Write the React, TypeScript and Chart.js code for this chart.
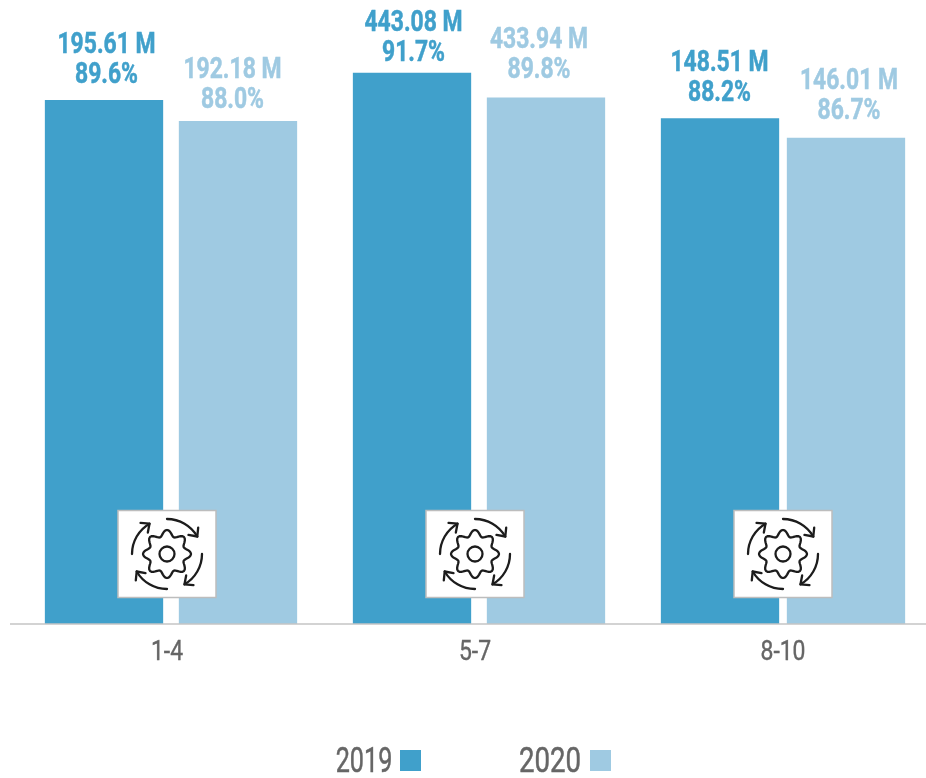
import React, { useEffect, useRef } from "react";
import { Chart, registerables } from "chart.js";

Chart.register(...registerables);

const categories = ["1-4", "5-7", "8-10"];
const seriesNames = ["2019", "2020"];
const share2019 = [89.6, 91.7, 88.2];
const share2020 = [88.0, 89.8, 86.7];
const millions2019 = ["195.61 M", "443.08 M", "148.51 M"];
const millions2020 = ["192.18 M", "433.94 M", "146.01 M"];

const BLUE = "#40a0cb";
const LIGHT = "#9fcae2";
const GREY = "#666666";
const FONT = 'Roboto, "Liberation Sans", sans-serif';

// fine placement, by [dataset][category]: horizontal shift of a bar and of its label, gap above the bar
const barShift = [[0, 0, 0], [0, 0, -8]];
const labelShift = [[2.5, 1.5, -0.5], [-5.5, -7, 3]];
const labelGap = [[17, 12, 17], [13, 20, 19]];

function squeezed(ctx: CanvasRenderingContext2D, text: string, x: number, y: number, sx: number, weight = 0) {
  ctx.save();
  ctx.translate(x, y);
  ctx.scale(sx, 1);
  ctx.fillText(text, 0, 0);
  if (weight > 0) {
    ctx.strokeStyle = ctx.fillStyle;
    ctx.lineWidth = weight;
    ctx.strokeText(text, 0, 0);
  }
  ctx.restore();
}

function drawIcon(ctx: CanvasRenderingContext2D, cx: number, top: number) {
  const w = 98, h = 87, cy = top + h / 2;
  ctx.save();
  ctx.fillStyle = "#ffffff";
  ctx.strokeStyle = "#bdbdbd";
  ctx.lineWidth = 1.5;
  ctx.fillRect(cx - w / 2, top, w, h);
  ctx.strokeRect(cx - w / 2, top, w, h);
  ctx.strokeStyle = "#1c1c1c";
  ctx.lineWidth = 2.3;
  ctx.lineCap = "round";
  ctx.lineJoin = "round";
  const teeth = 8;
  ctx.beginPath();
  for (let i = 0; i <= 96; i++) {
    const a = (i / 96) * Math.PI * 2;
    const r = 21 + 3 * Math.cos(teeth * a);
    const x = cx + r * Math.cos(a), y = cy + r * Math.sin(a);
    if (i === 0) ctx.moveTo(x, y); else ctx.lineTo(x, y);
  }
  ctx.closePath();
  ctx.stroke();
  ctx.beginPath();
  ctx.arc(cx, cy, 7.5, 0, Math.PI * 2);
  ctx.stroke();
  const R = 35;
  [-Math.PI / 2, 0, Math.PI / 2, Math.PI].forEach((start) => {
    const end = start + Math.PI / 3;
    ctx.beginPath();
    ctx.arc(cx, cy, R, start, end);
    ctx.stroke();
    const ex = cx + R * Math.cos(end), ey = cy + R * Math.sin(end);
    const t = end + Math.PI / 2 - 0.12;
    ctx.beginPath();
    ctx.moveTo(ex + 9 * Math.cos(t + 2.4), ey + 9 * Math.sin(t + 2.4));
    ctx.lineTo(ex, ey);
    ctx.lineTo(ex + 9 * Math.cos(t - 2.4), ey + 9 * Math.sin(t - 2.4));
    ctx.stroke();
  });
  ctx.restore();
}

const annotate = {
  id: "annotate",
  afterDatasetsUpdate(chart: any) {
    chart.data.datasets.forEach((_: any, d: number) => {
      chart.getDatasetMeta(d).data.forEach((bar: any, i: number) => {
        bar.x += barShift[d][i];
      });
    });
  },
  afterDraw(chart: any) {
    const ctx: CanvasRenderingContext2D = chart.ctx;
    const base = chart.scales.y.bottom;
    ctx.save();
    ctx.strokeStyle = "#c4c4c4";
    ctx.lineWidth = 1.5;
    ctx.beginPath();
    ctx.moveTo(10, base);
    ctx.lineTo(chart.width, base);
    ctx.stroke();

    const texts = [millions2019, millions2020];
    ctx.textAlign = "center";
    ctx.textBaseline = "alphabetic";
    ctx.font = `bold 29px ${FONT}`;
    chart.data.datasets.forEach((ds: any, d: number) => {
      ctx.fillStyle = ds.backgroundColor;
      chart.getDatasetMeta(d).data.forEach((bar: any, i: number) => {
        const x = bar.x + labelShift[d][i];
        const y = bar.y - labelGap[d][i];
        squeezed(ctx, ds.data[i].toFixed(1) + "%", x, y, 0.79, 0.5);
        squeezed(ctx, texts[d][i], x, y - 30, 0.79, 0.5);
      });
    });

    chart.data.labels.forEach((label: string, i: number) => {
      const cx = chart.scales.x.getPixelForValue(i) - 4;
      ctx.font = `27px ${FONT}`;
      ctx.fillStyle = GREY;
      squeezed(ctx, label, cx, 660, 0.85, 0.4);
      drawIcon(ctx, cx, 510.5);
    });

    const legendX = [364, 550];
    const boxX = [400, 590];
    const legendSqueeze = [0.72, 0.79];
    ctx.font = `35px ${FONT}`;
    chart.data.datasets.forEach((ds: any, d: number) => {
      ctx.fillStyle = GREY;
      squeezed(ctx, ds.label, legendX[d], 772, legendSqueeze[d], 0.5);
      ctx.fillStyle = ds.backgroundColor;
      ctx.fillRect(boxX[d], 750, 21, 21);
    });
    ctx.restore();
  },
};

export default function App() {
  const ref = useRef<HTMLCanvasElement>(null);
  useEffect(() => {
    const chart = new Chart(ref.current!, {
      type: "bar",
      data: {
        labels: categories,
        datasets: [
          { label: seriesNames[0], data: share2019, backgroundColor: BLUE },
          { label: seriesNames[1], data: share2020, backgroundColor: LIGHT },
        ],
      },
      options: {
        responsive: false,
        animation: false,
        events: [],
        layout: { padding: { left: 17, right: 1, top: 0, bottom: 146 } },
        plugins: { legend: { display: false }, tooltip: { enabled: false }, title: { display: false } },
        datasets: { bar: { categoryPercentage: 0.87, barPercentage: 0.883 } },
        scales: {
          x: {
            grid: { display: false },
            border: { display: false },
            ticks: { display: false },
          },
          y: { display: false, min: 49.3, max: 97.3 },
        },
      },
      plugins: [annotate],
    } as any);
    return () => chart.destroy();
  }, []);
  return (
    <div style={{ position: "fixed", left: 0, top: 0, width: 926, height: 778, overflow: "hidden", background: "#fff" }}>
      <canvas ref={ref} width={942} height={778} style={{ display: "block", width: 942, height: 778 }} />
    </div>
  );
}
